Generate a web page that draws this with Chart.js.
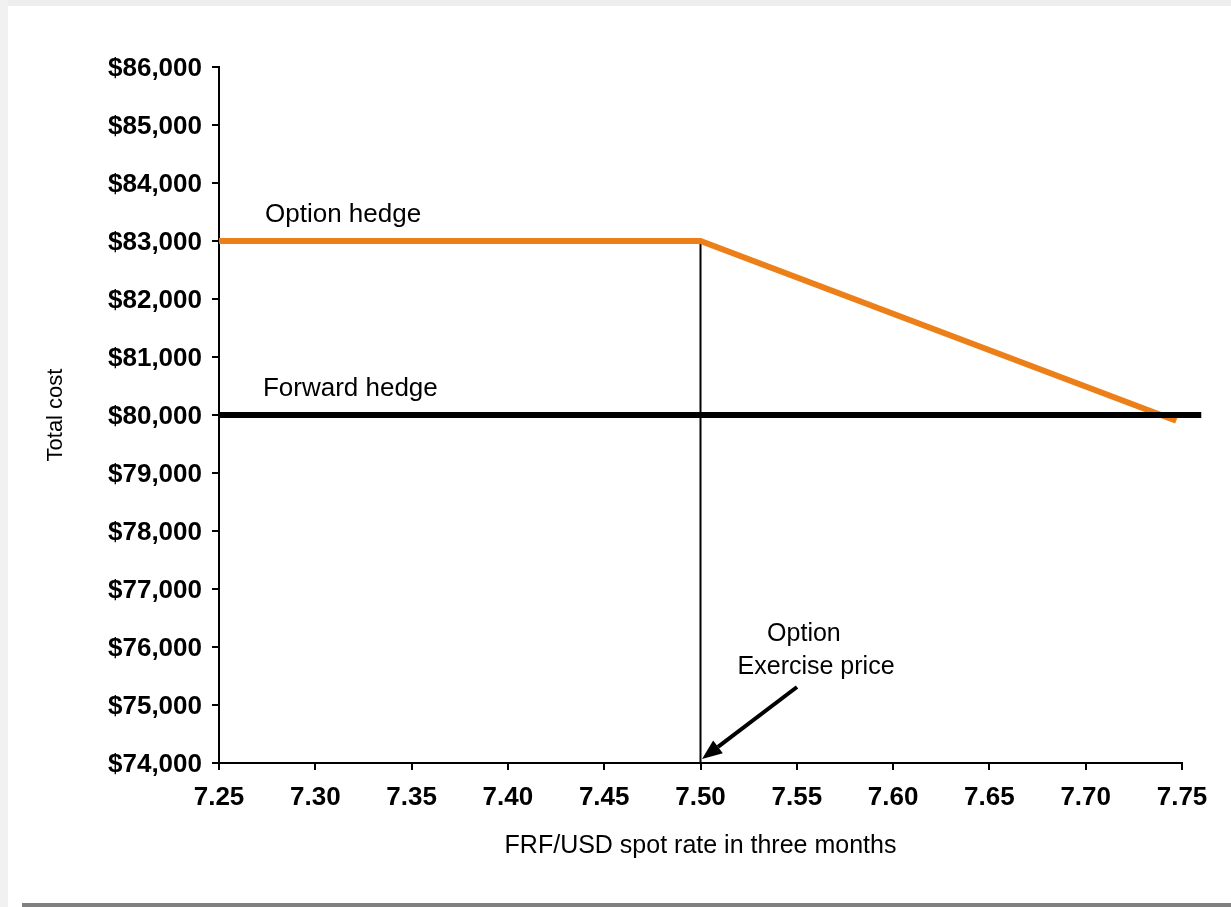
<!DOCTYPE html>
<html>
<head>
<meta charset="utf-8">
<title>Option hedge vs forward hedge</title>
<script src="https://cdn.jsdelivr.net/npm/chart.js@4.4.1/dist/chart.umd.min.js"></script>
<style>
  html, body { margin: 0; padding: 0; background: #fff; width: 1231px; height: 907px; overflow: hidden; }
  .edge-top { position: absolute; left: 0; top: 0; width: 1231px; height: 6px; background: #eeeeee; }
  .edge-left { position: absolute; left: 0; top: 0; width: 8px; height: 907px; background: #f1f1f1; }
  .edge-bottom { position: absolute; left: 22px; top: 903px; width: 1209px; height: 4px; background: #808080; }
  #wrap { position: absolute; left: 0; top: 0; width: 1231px; height: 907px; }
</style>
</head>
<body>
<div class="edge-top"></div>
<div class="edge-left"></div>
<div class="edge-bottom"></div>
<div id="wrap"><canvas id="chart" width="1231" height="907"></canvas></div>
<script>
// Spot rate (FRF per USD) and total cost of each hedge
const optionRates = [7.25, 7.50, 7.747];
const optionCost = [83000, 83000, 79900];
const forwardRates = [7.25, 7.76];
const forwardCost = [80000, 80000];
const strikeRates = [7.50, 7.50];
const strikeCost = [83000, 74000];

const xTicks = [7.25, 7.30, 7.35, 7.40, 7.45, 7.50, 7.55, 7.60, 7.65, 7.70, 7.75];
const yTicks = [74000, 75000, 76000, 77000, 78000, 79000, 80000, 81000, 82000, 83000, 84000, 85000, 86000];

const FONT = "'Liberation Sans', Arial, Helvetica, sans-serif";
const ORANGE = '#EC7F18';

const toPoints = (xs, ys) => xs.map((x, i) => ({ x: x, y: ys[i] }));

// Text labels and the arrow pointing at the exercise price
const annotations = {
  id: 'annotations',
  afterDatasetsDraw(chart) {
    const { ctx, scales: { x, y } } = chart;
    ctx.save();
    ctx.fillStyle = '#000';
    ctx.textBaseline = 'middle';

    ctx.font = '26px ' + FONT;
    ctx.textAlign = 'left';
    ctx.fillText('Option hedge', x.getPixelForValue(7.2739), y.getPixelForValue(83450));
    ctx.fillText('Forward hedge', x.getPixelForValue(7.2728), y.getPixelForValue(80450));

    ctx.font = '25px ' + FONT;
    ctx.textAlign = 'center';
    ctx.fillText('Option', x.getPixelForValue(7.5537), y.getPixelForValue(76225));
    ctx.fillText('Exercise price', x.getPixelForValue(7.560), y.getPixelForValue(75655));

    const x0 = x.getPixelForValue(7.5501), y0 = y.getPixelForValue(75310);
    const x1 = x.getPixelForValue(7.5008), y1 = y.getPixelForValue(74070);
    const ang = Math.atan2(y1 - y0, x1 - x0);
    const headLen = 20, headHalf = 8;
    const bx = x1 - headLen * Math.cos(ang), by = y1 - headLen * Math.sin(ang);
    ctx.strokeStyle = '#000';
    ctx.lineWidth = 4;
    ctx.beginPath();
    ctx.moveTo(x0, y0);
    ctx.lineTo(bx, by);
    ctx.stroke();
    ctx.beginPath();
    ctx.moveTo(x1, y1);
    ctx.lineTo(bx + headHalf * Math.sin(ang), by - headHalf * Math.cos(ang));
    ctx.lineTo(bx - headHalf * Math.sin(ang), by + headHalf * Math.cos(ang));
    ctx.closePath();
    ctx.fill();
    ctx.restore();
  }
};

new Chart(document.getElementById('chart'), {
  type: 'line',
  data: {
    datasets: [
      {
        label: 'Forward hedge',
        data: toPoints(forwardRates, forwardCost),
        borderColor: '#000',
        borderWidth: 6,
        clip: false
      },
      {
        label: 'Option hedge',
        data: toPoints(optionRates, optionCost),
        borderColor: ORANGE,
        borderWidth: 6,
        borderJoinStyle: 'miter',
        clip: false
      },
      {
        label: 'Exercise price',
        data: toPoints(strikeRates, strikeCost),
        borderColor: '#000',
        borderWidth: 2
      }
    ]
  },
  options: {
    responsive: false,
    animation: false,
    devicePixelRatio: 1,
    elements: { point: { radius: 0, hoverRadius: 0 }, line: { tension: 0, fill: false } },
    layout: { padding: { left: 0, right: 49, top: 67, bottom: 0 } },
    plugins: { legend: { display: false }, tooltip: { enabled: false } },
    events: [],
    scales: {
      x: {
        type: 'linear',
        min: 7.25,
        max: 7.75,
        afterBuildTicks: s => { s.ticks = xTicks.map(v => ({ value: v })); },
        afterFit: s => { s.height = 144; },
        border: { color: '#000', width: 2 },
        grid: { drawOnChartArea: false, color: '#000', lineWidth: 2, tickLength: 7 },
        ticks: {
          color: '#000',
          font: { family: FONT, size: 26, weight: 'bold' },
          padding: 12,
          maxRotation: 0,
          autoSkip: false,
          callback: v => Number(v).toFixed(2)
        },
        title: {
          display: true,
          text: 'FRF/USD spot rate in three months',
          color: '#000',
          font: { family: FONT, size: 25 },
          padding: { top: 0, bottom: 46 }
        }
      },
      y: {
        type: 'linear',
        min: 74000,
        max: 86000,
        afterBuildTicks: s => { s.ticks = yTicks.map(v => ({ value: v })); },
        afterFit: s => { s.width = 219; },
        border: { color: '#000', width: 2 },
        grid: { drawOnChartArea: false, color: '#000', lineWidth: 2, tickLength: 7 },
        ticks: {
          color: '#000',
          font: { family: FONT, size: 26, weight: 'bold' },
          padding: 10,
          labelOffset: 2,
          autoSkip: false,
          callback: v => '$' + Number(v).toLocaleString('en-US')
        },
        title: {
          display: true,
          text: 'Total cost',
          color: '#000',
          font: { family: FONT, size: 22 },
          padding: { top: 43, bottom: 0 }
        }
      }
    }
  },
  plugins: [annotations]
});
</script>
</body>
</html>
